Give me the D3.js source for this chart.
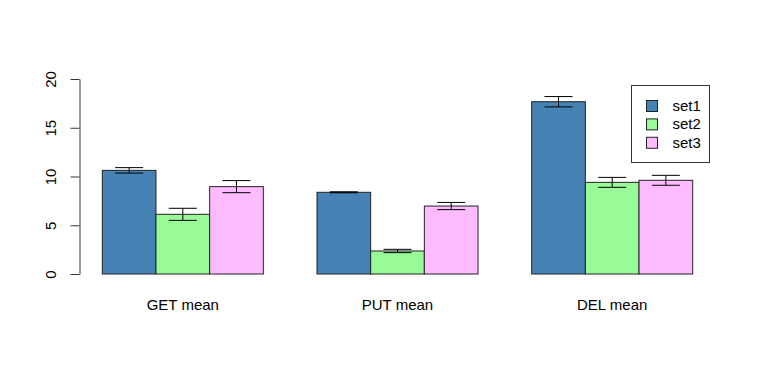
<!DOCTYPE html>
<html>
<head>
<meta charset="utf-8">
<script src="https://cdn.jsdelivr.net/npm/d3@7"></script>
<style>
  body { margin: 0; background: #fff; }
  svg text { font-family: "Liberation Sans", Arial, sans-serif; font-size: 15px; fill: #000; }
</style>
</head>
<body>
<svg id="chart" width="757" height="372"></svg>
<script>
// chart data
const categories = ['GET mean', 'PUT mean', 'DEL mean'];
const seriesNames = ['set1', 'set2', 'set3'];
const seriesColors = ['#4682B4', '#98FB98', '#FFBBFF'];
const set1 = [10.63, 8.38, 17.67];
const set2 = [6.12, 2.36, 9.40];
const set3 = [8.96, 6.97, 9.61];
const set1Err = [0.28, 0.05, 0.53];
const set2Err = [0.62, 0.17, 0.51];
const set3Err = [0.62, 0.37, 0.51];
const yTicks = [0, 5, 10, 15, 20];

const values = [set1, set2, set3];
const errors = [set1Err, set2Err, set3Err];

const svg = d3.select('#chart');

// bar units like R barplot: each group = 1 space + 3 bars
const x = d3.scaleLinear().domain([1, 12]).range([102.3, 692.7]);
const y = d3.scaleLinear().domain([0, 20]).range([274, 79]);
const unit = x(1) - x(0);

// flatten into one row per bar
const bars = [];
categories.forEach((cat, i) => {
  seriesNames.forEach((s, j) => {
    bars.push({ cat, i, j, value: values[j][i], err: errors[j][i], pos: i * 4 + 1 + j });
  });
});

// bars
svg.append('g')
  .selectAll('rect')
  .data(bars)
  .join('rect')
  .attr('x', d => x(d.pos))
  .attr('y', d => y(d.value))
  .attr('width', unit)
  .attr('height', d => y(0) - y(d.value))
  .attr('fill', d => seriesColors[d.j])
  .attr('stroke', '#222')
  .attr('stroke-width', 1);

// error bars
const eb = svg.append('g')
  .selectAll('g')
  .data(bars)
  .join('g')
  .attr('stroke', '#000')
  .attr('stroke-width', 1);

eb.append('line')
  .attr('x1', d => x(d.pos + 0.5))
  .attr('x2', d => x(d.pos + 0.5))
  .attr('y1', d => y(d.value - d.err))
  .attr('y2', d => y(d.value + d.err));
eb.append('line')
  .attr('x1', d => x(d.pos + 0.5) - 14)
  .attr('x2', d => x(d.pos + 0.5) + 14)
  .attr('y1', d => y(d.value + d.err))
  .attr('y2', d => y(d.value + d.err));
eb.append('line')
  .attr('x1', d => x(d.pos + 0.5) - 14)
  .attr('x2', d => x(d.pos + 0.5) + 14)
  .attr('y1', d => y(d.value - d.err))
  .attr('y2', d => y(d.value - d.err));

// y axis with rotated labels
const yAxis = svg.append('g')
  .attr('transform', 'translate(79.5,0)')
  .call(d3.axisLeft(y).tickValues(yTicks).tickSize(9).tickSizeOuter(0));
yAxis.select('.domain').attr('stroke', '#333');
yAxis.selectAll('.tick line').attr('stroke', '#333');
yAxis.selectAll('.tick text')
  .attr('x', 0)
  .attr('dy', 0)
  .attr('text-anchor', 'middle')
  .attr('transform', 'translate(-24,0) rotate(-90)')
  .style('font-size', '15px')
  .style('font-family', '"Liberation Sans", Arial, sans-serif');

// category labels
svg.append('g')
  .selectAll('text')
  .data(categories)
  .join('text')
  .attr('x', (d, i) => x(i * 4 + 2.5))
  .attr('y', 310)
  .attr('text-anchor', 'middle')
  .text(d => d);

// legend
const legend = svg.append('g');
legend.append('rect')
  .attr('x', 631.5).attr('y', 85.5)
  .attr('width', 78).attr('height', 77)
  .attr('fill', '#fff')
  .attr('stroke', '#333');

const items = legend.selectAll('g.item')
  .data(seriesNames)
  .join('g')
  .attr('class', 'item')
  .attr('transform', (d, i) => `translate(0,${106 + i * 18.4})`);
items.append('rect')
  .attr('x', 646.5).attr('y', -5.5)
  .attr('width', 11).attr('height', 11)
  .attr('fill', (d, i) => seriesColors[i])
  .attr('stroke', '#222');
items.append('text')
  .attr('x', 672.5)
  .attr('y', 5)
  .text(d => d);
</script>
</body>
</html>
